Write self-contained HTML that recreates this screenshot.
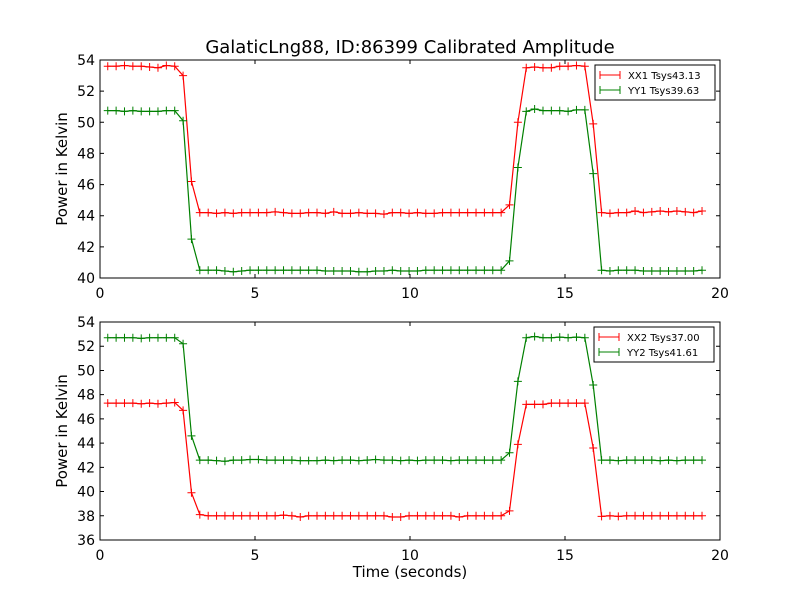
<!DOCTYPE html>
<html><head><meta charset="utf-8"><style>
body{margin:0;background:#fff;}
svg text{font-family:"DejaVu Sans","Liberation Sans",sans-serif;}
</style></head><body>
<svg id="chart" width="800" height="600" xmlns="http://www.w3.org/2000/svg">
<rect width="800" height="600" fill="#fff"/>
<text x="410" y="53" font-size="18" text-anchor="middle">GalaticLng88, ID:86399 Calibrated Amplitude</text>
<g id="top"></g>
<g id="bot"></g>
<text x="410" y="577" font-size="15" text-anchor="middle">Time (seconds)</text>
</svg>
<script>
const times = [0.25,0.52,0.79,1.06,1.33,1.60,1.87,2.14,2.41,2.68,2.95,3.22,3.49,3.76,4.03,4.30,4.57,4.84,5.11,5.38,5.65,5.92,6.19,6.46,6.73,7.00,7.27,7.54,7.81,8.08,8.35,8.62,8.89,9.16,9.43,9.70,9.97,10.24,10.51,10.78,11.05,11.32,11.59,11.86,12.13,12.40,12.67,12.94,13.21,13.48,13.75,14.02,14.29,14.56,14.83,15.10,15.37,15.64,15.91,16.18,16.45,16.72,16.99,17.26,17.53,17.80,18.07,18.34,18.61,18.88,19.15,19.42];
const xx1 = [53.6,53.6,53.65,53.6,53.6,53.55,53.5,53.65,53.6,53.0,46.2,
44.2,44.2,44.15,44.2,44.15,44.2,44.2,44.2,44.2,44.25,
44.2,44.15,44.15,44.2,44.2,44.15,44.25,44.15,44.15,44.2,
44.15,44.15,44.1,44.2,44.2,44.15,44.2,44.15,44.15,44.2,
44.2,44.2,44.2,44.2,44.2,44.2,44.2,
44.7,50.0,53.5,53.55,53.5,53.5,53.6,53.6,53.65,53.6,49.9,
44.2,44.15,44.2,44.2,44.3,44.2,44.25,44.3,44.25,44.3,44.25,44.2,44.3];
const yy1 = [50.75,50.75,50.7,50.75,50.7,50.7,50.7,50.75,50.75,50.1,42.5,
40.5,40.5,40.5,40.45,40.4,40.45,40.5,40.5,40.5,40.5,
40.5,40.5,40.5,40.5,40.5,40.45,40.45,40.45,40.45,40.4,
40.4,40.45,40.45,40.5,40.45,40.45,40.45,40.5,40.5,40.5,
40.5,40.5,40.5,40.5,40.5,40.5,40.5,
41.1,47.1,50.7,50.85,50.75,50.75,50.75,50.7,50.8,50.8,46.7,
40.5,40.45,40.5,40.5,40.5,40.45,40.45,40.45,40.45,40.45,40.45,40.45,40.5];
const xx2 = [47.3,47.3,47.3,47.3,47.25,47.3,47.25,47.3,47.35,46.7,39.9,
38.1,38.0,38.0,38.0,38.0,38.0,38.0,38.0,38.0,38.0,
38.05,38.0,37.9,38.0,38.0,38.0,38.0,38.0,38.0,38.0,
38.0,38.0,38.0,37.9,37.9,38.0,38.0,38.0,38.0,38.0,
38.0,37.9,38.0,38.0,38.0,38.0,38.0,
38.4,43.9,47.2,47.2,47.2,47.3,47.3,47.3,47.3,47.3,43.6,
37.95,38.0,37.95,38.0,38.0,38.0,38.0,38.0,38.0,38.0,38.0,38.0,38.0];
const yy2 = [52.7,52.7,52.7,52.7,52.65,52.7,52.7,52.7,52.7,52.2,44.6,
42.6,42.6,42.55,42.5,42.6,42.6,42.65,42.65,42.6,42.6,
42.6,42.6,42.55,42.55,42.55,42.6,42.55,42.6,42.6,42.55,
42.6,42.65,42.6,42.6,42.55,42.6,42.55,42.6,42.6,42.6,
42.55,42.6,42.6,42.6,42.6,42.6,42.6,
43.2,49.1,52.7,52.8,52.7,52.7,52.75,52.7,52.75,52.7,48.8,
42.6,42.6,42.55,42.6,42.6,42.6,42.6,42.55,42.6,42.55,42.6,42.6,42.6];
const xTicks = [0,5,10,15,20];
const yTicksTop = [40,42,44,46,48,50,52,54];
const yTicksBot = [36,38,40,42,44,46,48,50,52,54];
const legendTop = ["XX1 Tsys43.13","YY1 Tsys39.63"];
const legendBot = ["XX2 Tsys37.00","YY2 Tsys41.61"];

const NS="http://www.w3.org/2000/svg";
function mk(parent,tag,attrs){const e=document.createElementNS(NS,tag);for(const k in attrs)e.setAttribute(k,attrs[k]);parent.appendChild(e);return e;}

function panel(g,top,bottom,ymin,ymax,yTicks,series,colors,labels,legX,legY,name){
  const L=100,R=720;
  const sx=v=>L+(v-0)/(20-0)*(R-L);
  const sy=v=>bottom-(v-ymin)/(ymax-ymin)*(bottom-top);
  series.forEach((s,k)=>{
    const pts=times.map((t,i)=>sx(t).toFixed(1)+","+sy(s[i]).toFixed(1)).join(" ");
    const pl=mk(g,"polyline",{points:pts,fill:"none",stroke:colors[k],"stroke-width":1.2});
    
    
    times.forEach((t,i)=>{
      const x=sx(t),y=sy(s[i]);
      const m=mk(g,"path",{d:`M${x-4},${y}H${x+4}M${x},${y-4}V${y+4}`,stroke:colors[k],"stroke-width":1});
      
      
    });
  });
  const fr=mk(g,"rect",{x:L,y:top,width:R-L,height:bottom-top,fill:"none",stroke:"#000","stroke-width":1});
  
  
  xTicks.forEach(v=>{
    const x=sx(v);
    mk(g,"path",{d:`M${x},${bottom}v-4M${x},${top}v4`,stroke:"#000"});
    const t=mk(g,"text",{x:x,y:bottom+20,"font-size":14,"text-anchor":"middle"});t.textContent=v;
    
    
  });
  yTicks.forEach(v=>{
    const y=sy(v);
    mk(g,"path",{d:`M${L},${y}h4M${R},${y}h-4`,stroke:"#000"});
    const t=mk(g,"text",{x:L-5,y:y+5,"font-size":14,"text-anchor":"end"});t.textContent=v;
    
    
  });
  const yl=mk(g,"text",{x:0,y:0,"font-size":15,"text-anchor":"middle",transform:`translate(67,${(top+bottom)/2}) rotate(-90)`});
  yl.textContent="Power in Kelvin";
  
  
  const lg=mk(g,"g",{});
  
  
  mk(lg,"rect",{x:legX,y:legY,width:120,height:35,fill:"#fff",stroke:"#000"});
  labels.forEach((lab,k)=>{
    const y=legY+10+k*15;
    mk(lg,"path",{d:`M${legX+5},${y}h20M${legX+5},${y-4}v8M${legX+25},${y-4}v8`,stroke:colors[k],"stroke-width":1});
    const t=mk(lg,"text",{x:legX+33,y:y+4,"font-size":10});t.textContent=lab;
    
    
  });
}
panel(document.getElementById("top"),60,278,40,54,yTicksTop,[xx1,yy1],["#ff0000","#008000"],legendTop,595,65,"top");
panel(document.getElementById("bot"),322,540,36,54,yTicksBot,[xx2,yy2],["#ff0000","#008000"],legendBot,594,327,"bottom");
</script>
</body></html>
